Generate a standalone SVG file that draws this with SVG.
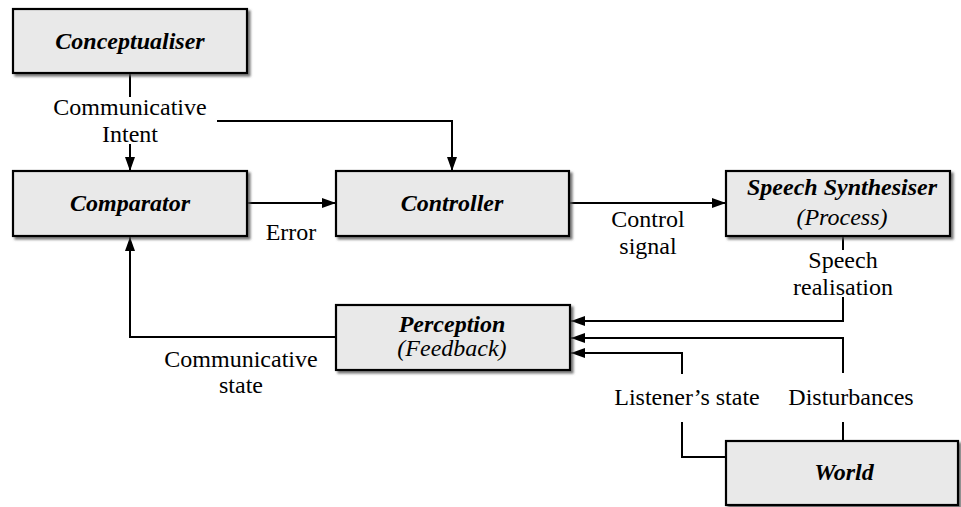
<svg xmlns="http://www.w3.org/2000/svg" width="961" height="507" viewBox="0 0 961 507">
  <defs>
    <filter id="shadow" x="-5%" y="-10%" width="115%" height="130%">
      <feDropShadow dx="2.5" dy="2.5" stdDeviation="1.1" flood-color="#555" flood-opacity="0.8"/>
    </filter>
    <marker id="arrow" markerUnits="userSpaceOnUse" markerWidth="15" markerHeight="12" refX="14" refY="5.5" orient="auto">
      <path d="M0,0.5 L14,5.5 L0,10.5 Z" fill="#000"/>
    </marker>
    <style>
      .box { fill: #e9e9e9; stroke: #000; stroke-width: 2.2; filter: url(#shadow); }
      text { font-family: "Times New Roman", "Liberation Serif", Tinos, "DejaVu Serif", serif; font-size: 24px; text-anchor: middle; fill: #000; }
      .title { font-weight: bold; font-style: italic; }
      .sub { font-style: italic; }
      .wire { fill: none; stroke: #000; stroke-width: 2; }
      .arr { marker-end: url(#arrow); }
    </style>
  </defs>
  <rect width="961" height="507" fill="#fff"/>

  <!-- connectors -->
  <g id="connectors">
    <!-- Conceptualiser to Comparator -->
    <path class="wire" d="M130,73 V97"/>
    <path class="wire arr" d="M130,144 V171"/>
    <!-- intent branch to Controller -->
    <path class="wire arr" d="M217,121 H452 V171"/>
    <!-- Comparator to Controller -->
    <path class="wire arr" d="M247,203 H336"/>
    <!-- Controller to Speech Synthesiser -->
    <path class="wire arr" d="M569,203 H726"/>
    <!-- speech realisation back to Perception -->
    <path class="wire" d="M843,236 V250"/>
    <path class="wire arr" d="M843,297 V321 H571"/>
    <!-- disturbances from World -->
    <path class="wire" d="M843,441 V422"/>
    <path class="wire arr" d="M843,373 V338 H571"/>
    <!-- listener's state from World -->
    <path class="wire" d="M726,457 H682 V422"/>
    <path class="wire arr" d="M682,374 V353 H571"/>
    <!-- feedback to Comparator -->
    <path class="wire arr" d="M336,337 H130 V237"/>
  </g>

  <g id="conceptualiser">
    <rect class="box" x="13" y="9" width="234" height="64"/>
    <text class="title" x="130" y="49">Conceptualiser</text>
  </g>

  <g id="comparator">
    <rect class="box" x="13" y="171" width="234" height="65"/>
    <text class="title" x="130" y="211">Comparator</text>
  </g>

  <g id="controller">
    <rect class="box" x="336" y="171" width="233" height="65"/>
    <text class="title" x="452" y="211">Controller</text>
  </g>

  <g id="speech-synthesiser">
    <rect class="box" x="726" y="171" width="224" height="65"/>
    <text class="title" x="842" y="195">Speech Synthesiser</text>
    <text class="sub" x="842" y="225">(Process)</text>
  </g>

  <g id="perception">
    <rect class="box" x="336" y="305" width="234" height="65"/>
    <text class="title" x="452" y="332">Perception</text>
    <text class="sub" x="452" y="356">(Feedback)</text>
  </g>

  <g id="world">
    <rect class="box" x="726" y="441" width="232" height="64"/>
    <text class="title" x="844" y="480">World</text>
  </g>

  <!-- connector labels -->
  <g id="labels">
    <text x="130" y="115">Communicative</text>
    <text x="130" y="142">Intent</text>
    <text x="291" y="240">Error</text>
    <text x="648" y="227">Control</text>
    <text x="648" y="254">signal</text>
    <text x="843" y="268">Speech</text>
    <text x="843" y="295">realisation</text>
    <text x="241" y="367">Communicative</text>
    <text x="241" y="393">state</text>
    <text x="687" y="405">Listener’s state</text>
    <text x="851" y="405">Disturbances</text>
  </g>
</svg>
